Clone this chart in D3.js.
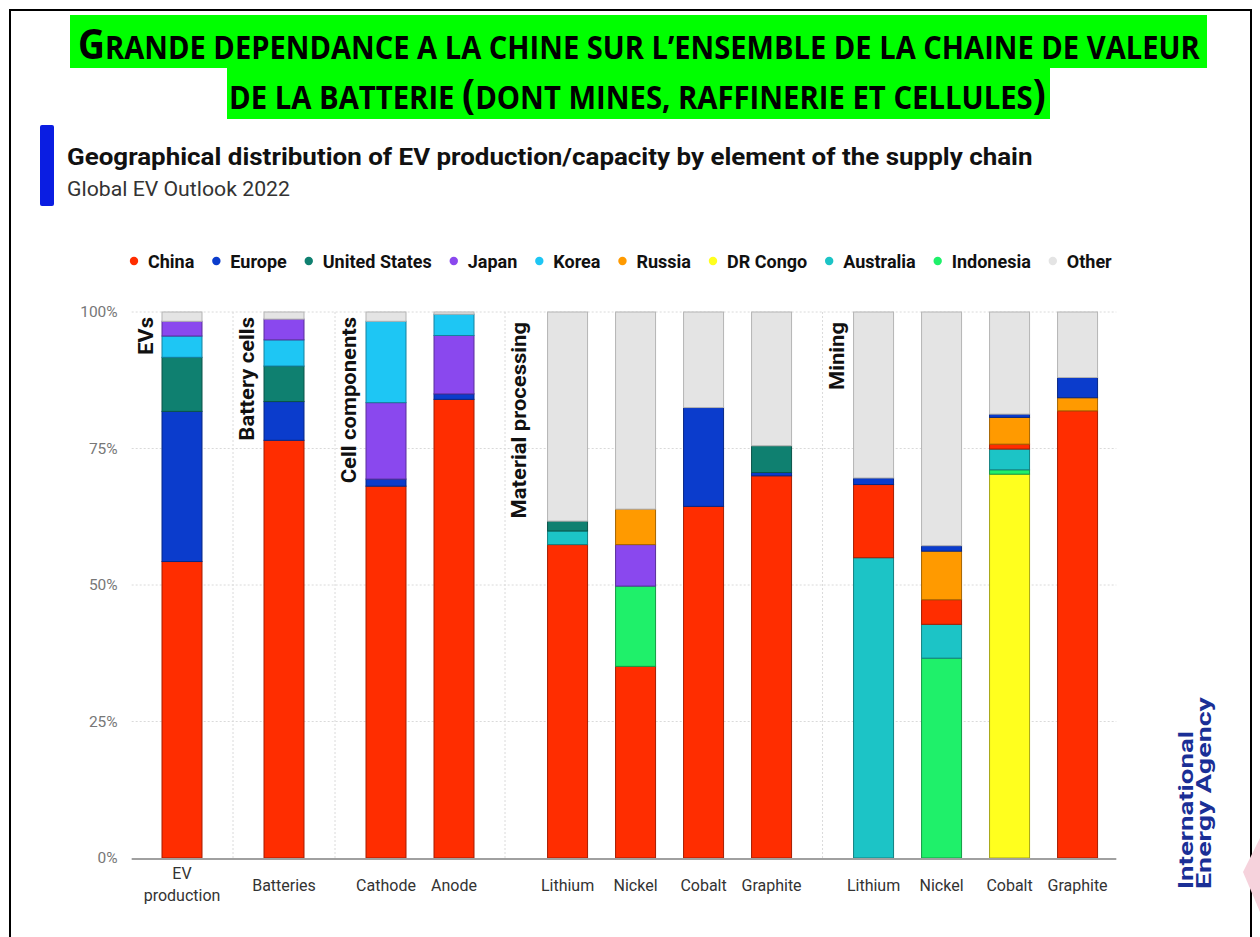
<!DOCTYPE html>
<html>
<head>
<meta charset="utf-8">
<script src="https://cdn.jsdelivr.net/npm/d3@7"></script>
<style>
  html, body { margin: 0; padding: 0; background: #fff; }
  svg { display: block; }
</style>
</head>
<body>
<svg id="chart" width="1260" height="937"></svg>
<script>
// ---- Data -------------------------------------------------------------
const categories = ["EV production", "Batteries", "Cathode", "Anode",
                    "Lithium", "Nickel", "Cobalt", "Graphite",
                    "Lithium", "Nickel", "Cobalt", "Graphite"];
const sectionOf = [0, 1, 2, 2, 3, 3, 3, 3, 4, 4, 4, 4];
const sections = ["EVs", "Battery cells", "Cell components", "Material processing", "Mining"];

const regions = ["China", "Europe", "United States", "Japan", "Korea",
                 "Russia", "DR Congo", "Australia", "Indonesia", "Other"];

// shares (%) per region, one value per category
const china        = [54.3, 76.5, 68.1, 84.0, 57.4, 35.1, 64.4, 70.0, 13.4,  4.5,  0.9, 81.9];
const europe       = [27.5,  7.1,  1.3,  1.0,  0.0,  0.0, 18.1,  0.6,  1.2,  1.0,  0.6,  3.7];
const unitedStates = [ 9.9,  6.5,  0.0,  0.0,  1.8,  0.0,  0.0,  4.9,  0.0,  0.0,  0.0,  0.0];
const japan        = [ 2.7,  3.8, 14.0, 10.7,  0.0,  7.6,  0.0,  0.0,  0.0,  0.0,  0.0,  0.0];
const korea        = [ 3.9,  4.8, 14.9,  3.9,  0.0,  0.0,  0.0,  0.0,  0.0,  0.0,  0.0,  0.0];
const russia       = [ 0.0,  0.0,  0.0,  0.0,  0.0,  6.5,  0.0,  0.0,  0.0,  8.9,  4.9,  2.4];
const drCongo      = [ 0.0,  0.0,  0.0,  0.0,  0.0,  0.0,  0.0,  0.0,  0.0,  0.0, 70.3,  0.0];
const australia    = [ 0.0,  0.0,  0.0,  0.0,  2.5,  0.0,  0.0,  0.0, 55.0,  6.2,  3.8,  0.0];
const indonesia    = [ 0.0,  0.0,  0.0,  0.0,  0.0, 14.7,  0.0,  0.0,  0.0, 36.6,  0.8,  0.0];
const other        = [ 1.7,  1.3,  1.7,  0.4, 38.3, 36.1, 17.5, 24.5, 30.4, 42.8, 18.7, 12.0];

// stacking order (bottom to top) used in each section
const sectionStackOrder = [
  ["China", "Europe", "United States", "Korea", "Japan", "Other"],
  ["China", "Europe", "United States", "Korea", "Japan", "Other"],
  ["China", "Europe", "Japan", "Korea", "Other"],
  ["China", "Europe", "Indonesia", "Australia", "United States", "Japan", "Russia", "Other"],
  ["DR Congo", "Indonesia", "Australia", "China", "Russia", "Europe", "Other"]
];

const yTicks = [0, 25, 50, 75, 100];

// ---- Styling / layout ------------------------------------------------
const seriesByRegion = {
  "China": china, "Europe": europe, "United States": unitedStates, "Japan": japan,
  "Korea": korea, "Russia": russia, "DR Congo": drCongo, "Australia": australia,
  "Indonesia": indonesia, "Other": other
};
const colors = {
  "China": "#ff2d00", "Europe": "#0b3ccc", "United States": "#0f8070", "Japan": "#8a48ee",
  "Korea": "#1ec6f4", "Russia": "#ff9a00", "DR Congo": "#ffff1e", "Australia": "#1cc4c6",
  "Indonesia": "#1ff06a", "Other": "#e4e4e4"
};
const sectionGap = [0, 0.5, 0.5, 0.67, 0.5];   // extra slot space before each section
const font = "Roboto, 'Liberation Sans', sans-serif";

const svg = d3.select("#chart");
svg.append("rect").attr("width", 1260).attr("height", 937).attr("fill", "#fff");

// page frame
svg.append("rect").attr("x", 10).attr("y", 10).attr("width", 1241).attr("height", 940)
  .attr("fill", "none").attr("stroke", "#000").attr("stroke-width", 2);

// text helper: draws a string, then stretches it horizontally to a given width
function fitText(parent, x0, y0, width, build) {
  const g = parent.append("g");
  const t = g.append("text").attr("x", 0).attr("y", 0);
  build(t);
  const natural = t.node().getComputedTextLength();
  g.attr("transform", `translate(${x0},${y0}) scale(${width / natural},1)`);
  return t;
}

// ---- Headline on green bands ------------------------------------------
svg.append("rect").attr("x", 70).attr("y", 15).attr("width", 1137).attr("height", 53).attr("fill", "#00ff00");
svg.append("rect").attr("x", 227).attr("y", 67).attr("width", 823).attr("height", 52).attr("fill", "#00ff00");

fitText(svg, 78, 59, 1122, t => {
  t.attr("font-family", "'Open Sans', sans-serif").attr("font-weight", 700).attr("fill", "#000");
  t.append("tspan").attr("font-size", 41).text("G");
  t.append("tspan").attr("font-size", 32).text("RANDE DEPENDANCE A LA CHINE SUR L\u2019ENSEMBLE DE LA CHAINE DE VALEUR");
});
fitText(svg, 229, 109, 817, t => {
  t.attr("font-family", "'Open Sans', sans-serif").attr("font-weight", 700).attr("fill", "#000");
  t.append("tspan").attr("font-size", 32).text("DE LA BATTERIE ");
  t.append("tspan").attr("font-size", 42).text("(");
  t.append("tspan").attr("font-size", 32).text("DONT MINES, RAFFINERIE ET CELLULES");
  t.append("tspan").attr("font-size", 42).text(")");
});

// ---- Chart title ------------------------------------------------------
svg.append("rect").attr("x", 40).attr("y", 125).attr("width", 14).attr("height", 81)
  .attr("rx", 2).attr("fill", "#0a1de2");
fitText(svg, 67, 165, 966, t => {
  t.attr("font-family", font).attr("font-weight", 700).attr("font-size", 24).attr("fill", "#111")
    .text("Geographical distribution of EV production/capacity by element of the supply chain");
});
fitText(svg, 67, 196, 223, t => {
  t.attr("font-family", font).attr("font-size", 20).attr("fill", "#333")
    .text("Global EV Outlook 2022");
});

// ---- Legend -----------------------------------------------------------
let lx = 134;
regions.forEach(r => {
  svg.append("circle").attr("cx", lx).attr("cy", 261).attr("r", 4.2).attr("fill", colors[r]);
  const t = svg.append("text").attr("x", lx + 14).attr("y", 267.5)
    .attr("font-family", font).attr("font-weight", 700).attr("font-size", 18).attr("fill", "#111")
    .text(r);
  lx += 14 + t.node().getComputedTextLength() + 22;
});

// ---- Scales -----------------------------------------------------------
const y = d3.scaleLinear().domain([0, 100]).range([858, 312]);
const cumGap = d3.cumsum(sectionGap);
const slots = categories.map((c, i) => i + cumGap[sectionOf[i]]);
const x = d3.scaleLinear().domain([0, 1]).range([182, 250]);
const barW = 40;
const plotLeft = x(-0.74), plotRight = x(slots[slots.length - 1] + 0.57);

// separators between sections
const sepSlots = sections.map((s, k) => {
  if (k === 0) return -0.74;
  const prev = slots.filter((_, i) => sectionOf[i] === k - 1);
  return prev[prev.length - 1] + 0.75;
});

// horizontal gridlines
svg.append("g").selectAll("line").data(yTicks.filter(d => d > 0)).join("line")
  .attr("x1", plotLeft).attr("x2", plotRight)
  .attr("y1", d => y(d)).attr("y2", d => y(d))
  .attr("stroke", "#dadada").attr("stroke-width", 1).attr("stroke-dasharray", "2,2");

// vertical section separators
svg.append("g").selectAll("line").data(sepSlots.slice(1)).join("line")
  .attr("x1", d => x(d)).attr("x2", d => x(d))
  .attr("y1", y(100)).attr("y2", y(0))
  .attr("stroke", "#dadada").attr("stroke-width", 1).attr("stroke-dasharray", "2,2");

// y axis
const yAxis = svg.append("g").attr("transform", `translate(${plotLeft},0)`)
  .call(d3.axisLeft(y).tickValues(yTicks).tickFormat(d => d + "%").tickSize(0).tickPadding(14));
yAxis.select(".domain").remove();
yAxis.selectAll("text").attr("font-family", font).attr("font-size", 15.5).attr("fill", "#777");

// ---- Stacked bars -----------------------------------------------------
const barsG = svg.append("g");
categories.forEach((cat, i) => {
  const keys = sectionStackOrder[sectionOf[i]];
  const row = {};
  keys.forEach(k => { row[k] = seriesByRegion[k][i]; });
  const stacked = d3.stack().keys(keys)([row]);
  stacked.forEach(s => {
    const seg = s[0];
    if (seg[1] - seg[0] <= 0) return;
    const key = s.key;
    barsG.append("rect")
      .attr("x", x(slots[i]) - barW / 2)
      .attr("width", barW)
      .attr("y", y(seg[1]))
      .attr("height", y(seg[0]) - y(seg[1]))
      .attr("fill", colors[key])
      .attr("stroke", key === "Other" ? "#b4b4b4" : d3.color(colors[key]).darker(1.2))
      .attr("stroke-width", 1);
  });
});

// baseline
svg.append("line").attr("x1", plotLeft).attr("x2", plotRight)
  .attr("y1", y(0) + 1).attr("y2", y(0) + 1)
  .attr("stroke", "#a0a0a0").attr("stroke-width", 2);

// section labels (vertical, slightly stretched along the reading direction)
sections.forEach((s, k) => {
  svg.append("text")
    .attr("transform", `translate(${x(sepSlots[k]) + 14},${k >= 3 ? 322 : 317}) rotate(-90) scale(1.1,1)`)
    .attr("text-anchor", "end").attr("dy", "0.36em")
    .attr("font-family", font).attr("font-weight", 700).attr("font-size", 20).attr("fill", "#111")
    .text(s);
});

// category labels
categories.forEach((cat, i) => {
  const words = cat.split(" ");
  const t = svg.append("text").attr("text-anchor", "middle")
    .attr("font-family", font).attr("font-size", 16).attr("fill", "#333");
  if (words.length > 1) {
    t.append("tspan").attr("x", x(slots[i])).attr("y", 879).text(words[0]);
    t.append("tspan").attr("x", x(slots[i])).attr("y", 901).text(words.slice(1).join(" "));
  } else {
    t.attr("x", x(slots[i])).attr("y", 891).text(cat);
  }
});

// ---- Source mark ------------------------------------------------------
const iea = svg.append("g").attr("transform", "translate(1193,889) rotate(-90)");
iea.append("text").attr("x", 0).attr("y", 0)
  .attr("textLength", 158).attr("lengthAdjust", "spacingAndGlyphs")
  .attr("font-family", font).attr("font-weight", 700).attr("font-size", 21).attr("fill", "#1a2f96")
  .text("International");
iea.append("text").attr("x", 0).attr("y", 18)
  .attr("textLength", 192).attr("lengthAdjust", "spacingAndGlyphs")
  .attr("font-family", font).attr("font-weight", 700).attr("font-size", 21).attr("fill", "#1a2f96")
  .text("Energy Agency");

// faint mark at the right edge
svg.append("path").attr("d", "M1260,838 L1243,872 L1260,912 Z").attr("fill", "#f6d2dc");
</script>
</body>
</html>
